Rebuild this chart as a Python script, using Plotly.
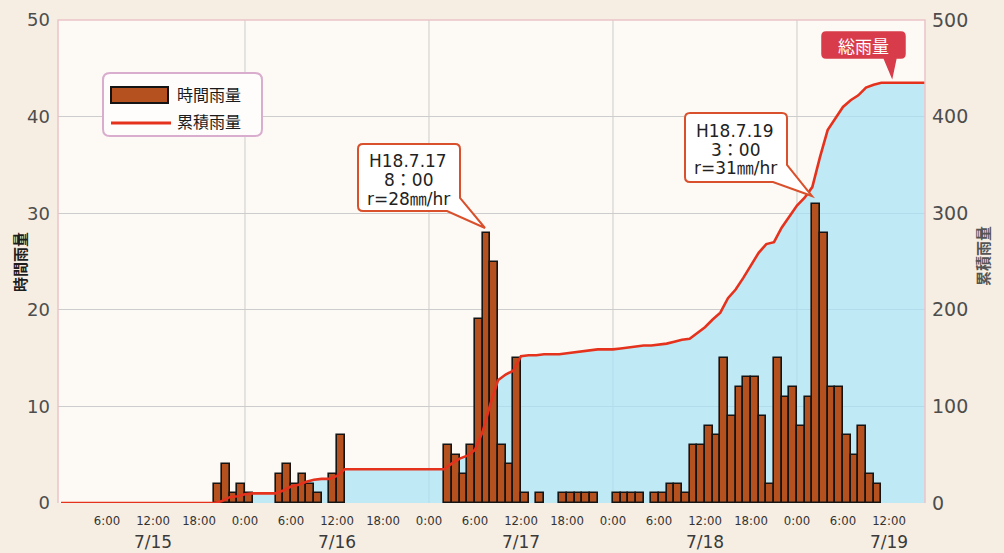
import plotly.graph_objects as go

# ---------------- data (hour index counted from 2006-07-15 0:00) ----------------
# hourly rainfall; each bar covers the hour [h, h+1)
bar_hours = [20, 21, 22, 23, 24,
             28, 29, 30, 31, 32, 33,
             35, 36,
             50, 51, 52, 53, 54, 55, 56, 57, 58, 59, 60, 62,
             65, 66, 67, 68, 69,
             72, 73, 74, 75, 77, 78, 79, 80, 81,
             82, 83, 84, 85, 86, 87, 88, 89, 90, 91, 92, 93, 94, 95,
             96, 97, 98, 99, 100, 101, 102, 103, 104, 105, 106]
bar_mm = [2, 4, 1, 2, 1,
          3, 4, 2, 3, 2, 1,
          3, 7,
          6, 5, 3, 6, 19, 28, 25, 6, 4, 15, 1, 1,
          1, 1, 1, 1, 1,
          1, 1, 1, 1, 1, 1, 2, 2, 1,
          6, 6, 8, 7, 15, 9, 12, 13, 13, 9, 2, 15, 11, 12,
          8, 11, 31, 28, 12, 12, 7, 5, 8, 3, 2]

# cumulative rainfall read at each hour mark 0..113
cum_hours = list(range(0, 114))
cum_mm = [0, 0, 0, 0, 0, 0, 0, 0, 0, 0, 0, 0, 0, 0, 0, 0, 0, 0, 0, 0, 0,
          2, 6, 7, 9, 10, 10, 10, 10, 13, 17, 19, 22, 24, 25, 25, 28, 35,
          35, 35, 35, 35, 35, 35, 35, 35, 35, 35, 35, 35, 35,
          41, 46, 49, 55, 74, 102, 127, 133, 137, 152, 153, 153, 154, 154, 154,
          155, 156, 157, 158, 159, 159, 159, 160, 161, 162, 163, 163, 164, 165,
          167, 169, 170, 176, 182, 190, 197, 212, 221, 233, 246, 259, 268, 270,
          285, 296, 308, 316, 327, 358, 386, 398, 410, 417, 422, 430, 433, 435,
          435, 435, 435, 435, 435, 435]

hour_tick_vals = [6, 12, 18, 24, 30, 36, 42, 48, 54, 60, 66, 72, 78, 84, 90, 96, 102, 108]
hour_tick_text = ["6:00", "12:00", "18:00", "0:00", "6:00", "12:00", "18:00", "0:00",
                  "6:00", "12:00", "18:00", "0:00", "6:00", "12:00", "18:00", "0:00",
                  "6:00", "12:00"]
date_labels = ["7/15", "7/16", "7/17", "7/18", "7/19"]
date_label_hours = [12, 36, 60, 84, 108]
day_lines = [24, 48, 72, 96]
left_ticks = [0, 10, 20, 30, 40, 50]
right_ticks = [0, 100, 200, 300, 400, 500]

# ---------------- layout geometry (pixels) ----------------
W, H = 1004, 553
L, R, T, B = 58, 925, 20, 503


def px(x):
    return (x - L) / (R - L)


def py(y):
    return (B - y) / (B - T)


def P(x, y):
    return f"{px(x):.5f},{py(y):.5f}"


def rounded_rect(x0, y0, x1, y1, r):
    return (f"M {P(x0 + r, y0)} L {P(x1 - r, y0)} Q {P(x1, y0)} {P(x1, y0 + r)} "
            f"L {P(x1, y1 - r)} Q {P(x1, y1)} {P(x1 - r, y1)} L {P(x0 + r, y1)} "
            f"Q {P(x0, y1)} {P(x0, y1 - r)} L {P(x0, y0 + r)} Q {P(x0, y0)} {P(x0 + r, y0)} Z")


def callout_corner(x0, y0, x1, y1, r, ya, tip, xb):
    return (f"M {P(x0 + r, y0)} L {P(x1 - r, y0)} Q {P(x1, y0)} {P(x1, y0 + r)} "
            f"L {P(x1, ya)} L {P(*tip)} L {P(xb, y1)} L {P(x0 + r, y1)} "
            f"Q {P(x0, y1)} {P(x0, y1 - r)} L {P(x0, y0 + r)} Q {P(x0, y0)} {P(x0 + r, y0)} Z")


def callout_bottom(x0, y0, x1, y1, r, xa, tip, xb):
    return (f"M {P(x0 + r, y0)} L {P(x1 - r, y0)} Q {P(x1, y0)} {P(x1, y0 + r)} "
            f"L {P(x1, y1 - r)} Q {P(x1, y1)} {P(x1 - r, y1)} L {P(xa, y1)} L {P(*tip)} "
            f"L {P(xb, y1)} L {P(x0 + r, y1)} Q {P(x0, y1)} {P(x0, y1 - r)} "
            f"L {P(x0, y0 + r)} Q {P(x0, y0)} {P(x0 + r, y0)} Z")


BAR_COLOR = "#b4511e"
LINE_COLOR = "#e5321d"
FILL_COLOR = "rgba(168,226,246,0.72)"
GRID = "#cdcdcd"
NUM_FONT = "DejaVu Sans"
CJK_FONT = "Noto Sans CJK JP"

fig = go.Figure()

fig.add_trace(go.Scatter(
    x=cum_hours, y=cum_mm, yaxis="y2", mode="lines", fill="tozeroy",
    fillcolor=FILL_COLOR, line=dict(width=0), hoverinfo="skip", showlegend=False))

fig.add_trace(go.Bar(
    x=bar_hours, y=bar_mm, yaxis="y", width=1, offset=0, name="時間雨量",
    marker=dict(color=BAR_COLOR, line=dict(color="#141414", width=1.6)),
    showlegend=False))

fig.add_trace(go.Scatter(
    x=cum_hours, y=cum_mm, yaxis="y3", mode="lines", name="累積雨量",
    line=dict(color=LINE_COLOR, width=2.6), showlegend=False))

shapes = []
# vertical day gridlines
for d in day_lines:
    shapes.append(dict(type="line", xref="x", yref="paper", x0=d, x1=d, y0=0, y1=1,
                       line=dict(color=GRID, width=1), layer="below"))
# plot frame (left, top, right)
shapes.append(dict(type="path", xref="paper", yref="paper",
                   path="M 0,0 L 0,1 L 1,1 L 1,0",
                   line=dict(color="#ecc3c8", width=1.5), layer="above"))
# legend box
shapes.append(dict(type="path", xref="paper", yref="paper",
                   path=rounded_rect(103, 73, 262, 136, 7),
                   fillcolor="#fffdfb", line=dict(color="#d8adcd", width=2), layer="above"))
shapes.append(dict(type="rect", xref="paper", yref="paper",
                   x0=px(111), x1=px(168), y0=py(103), y1=py(87),
                   fillcolor=BAR_COLOR, line=dict(color="#141414", width=2), layer="above"))
shapes.append(dict(type="line", xref="paper", yref="paper",
                   x0=px(111), x1=px(171), y0=py(123), y1=py(123),
                   line=dict(color=LINE_COLOR, width=3), layer="above"))
# callouts
shapes.append(dict(type="path", xref="paper", yref="paper",
                   path=callout_corner(358, 144, 460, 211, 5, 198, (485, 228), 447),
                   fillcolor="#ffffff", line=dict(color="#d9502c", width=2), layer="above"))
shapes.append(dict(type="path", xref="paper", yref="paper",
                   path=callout_corner(685, 113, 787, 182, 5, 165, (812, 196), 773),
                   fillcolor="#ffffff", line=dict(color="#d9502c", width=2), layer="above"))
shapes.append(dict(type="path", xref="paper", yref="paper",
                   path=callout_bottom(822, 32, 905, 58, 4, 896, (892, 77), 884),
                   fillcolor="#d83c4a", line=dict(color="#d83c4a", width=1.5), layer="above"))

annotations = []


def text(x, y, s, size=17, color="#222", family=NUM_FONT, xanchor="center", angle=0):
    annotations.append(dict(xref="paper", yref="paper", x=px(x), y=py(y), text=s,
                            showarrow=False, xanchor=xanchor, yanchor="middle",
                            textangle=angle, font=dict(family=family, size=size, color=color)))


# date labels under the hour labels
for lab, h in zip(date_labels, date_label_hours):
    annotations.append(dict(xref="x", yref="paper", x=h, y=py(542), text=lab,
                            showarrow=False, xanchor="center", yanchor="middle",
                            font=dict(family=NUM_FONT, size=17, color="#3a3a3a")))

# legend texts
text(175, 94, "時間雨量", size=16, color="#1a1a1a", family=CJK_FONT, xanchor="left")
text(175, 121, "累積雨量", size=16, color="#1a1a1a", family=CJK_FONT, xanchor="left")
# callout texts
text(408, 161, "H18.7.17", size=17, family=NUM_FONT + ", " + CJK_FONT)
text(408, 180, "8：00", size=17, family=NUM_FONT + ", " + CJK_FONT)
text(408, 199, "r=28㎜/hr", size=17, family=NUM_FONT + ", " + CJK_FONT)
text(735, 131, "H18.7.19", size=17, family=NUM_FONT + ", " + CJK_FONT)
text(735, 150, "3：00", size=17, family=NUM_FONT + ", " + CJK_FONT)
text(735, 168, "r=31㎜/hr", size=17, family=NUM_FONT + ", " + CJK_FONT)
text(863, 45, "総雨量", size=17, color="#ffffff", family=CJK_FONT)
# axis titles
text(19, 262, "<b>時間雨量</b>", size=15, color="#1e1e1e", family=CJK_FONT, angle=-90)
text(982, 256, "<b>累積雨量</b>", size=15, color="#555555", family=CJK_FONT, angle=-90)

fig.update_layout(
    width=W, height=H,
    margin=dict(l=L, r=W - R, t=T, b=H - B, pad=0, autoexpand=False),
    paper_bgcolor="#f6eee3",
    plot_bgcolor="#fdfaf5",
    showlegend=False,
    bargap=0,
    xaxis=dict(range=[-0.39, 112.7], tickmode="array", tickvals=hour_tick_vals,
               ticktext=hour_tick_text, showgrid=False, zeroline=False, showline=False,
               ticks="", ticklabelstandoff=8, automargin=False,
               tickfont=dict(family="DejaVu Sans Condensed, DejaVu Sans", size=13, color="#333333")),
    yaxis=dict(range=[0, 50], overlaying="y2", side="left", tickmode="array",
               tickvals=left_ticks, showgrid=False, zeroline=False, showline=False,
               ticks="", ticklabelstandoff=7, automargin=False,
               tickfont=dict(family=NUM_FONT, size=18, color="#4d4d4d")),
    yaxis2=dict(range=[0, 500], side="right", tickmode="array", tickvals=right_ticks,
                showgrid=True, gridcolor=GRID, gridwidth=1, zeroline=False, showline=False,
                ticks="", ticklabelstandoff=6, automargin=False,
                tickfont=dict(family=NUM_FONT, size=19, color="#4d4d4d")),
    yaxis3=dict(range=[0, 500], overlaying="y2", visible=False, automargin=False),
    shapes=shapes,
    annotations=annotations,
)

fig.write_html("out.html",
               config={"displayModeBar": False},
               post_script="document.body.style.margin='0';document.body.style.overflow='hidden';")
